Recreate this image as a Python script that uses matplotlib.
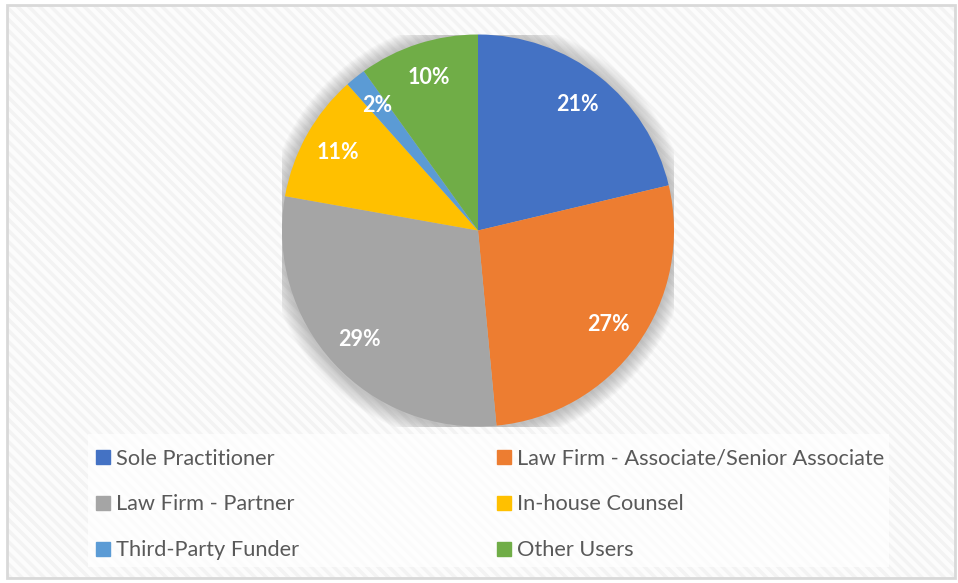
import matplotlib
matplotlib.use('Agg')
import matplotlib.pyplot as plt
from matplotlib.patches import Rectangle, Circle
from matplotlib.lines import Line2D

# Data (shares, labels shown rounded)
categories = ['Sole Practitioner', 'Law Firm - Associate/Senior Associate',
              'Law Firm - Partner', 'In-house Counsel',
              'Third-Party Funder', 'Other Users']
shares = [21.3, 27.2, 29.3, 10.6, 1.7, 9.9]
colors = ['#4472C4', '#ED7D31', '#A5A5A5', '#FFC000', '#5B9BD5', '#70AD47']

plt.rcParams['hatch.linewidth'] = 2.5

W, H = 958, 583
fig = plt.figure(figsize=(W / 100, H / 100), dpi=100)
fig.patch.set_facecolor('white')

# hatched background inside the chart frame
bg = Rectangle((7 / W, 1 - 578 / H), 948 / W, 573 / H, transform=fig.transFigure,
               facecolor='#fcfcfc', edgecolor='#f3f3f3', hatch='\\\\\\', lw=0, zorder=0)
fig.patches.append(bg)
frame = Rectangle((7 / W, 1 - 578 / H), 948 / W, 573 / H, transform=fig.transFigure,
                  facecolor='none', edgecolor='#d9d9d9', lw=2, zorder=1)
fig.patches.append(frame)
# lighter box behind legend
lbox = Rectangle((88 / W, 1 - 567 / H), 801 / W, 133 / H, transform=fig.transFigure,
                 facecolor='white', edgecolor='none', alpha=0.75, zorder=1)
fig.patches.append(lbox)

cx, cy, r = 478, 230.5, 196
ax = fig.add_axes([(cx - r) / W, 1 - (cy + r) / H, 2 * r / W, 2 * r / H])
ax.set_zorder(5)
ax.patch.set_alpha(0)
ax.axis('off')

# soft shadow around the pie
for i in range(14):
    ax.add_patch(Circle((0, -0.006), 1.0 + 0.006 * (i + 1), color='#7f7f7f',
                        alpha=0.04, lw=0, zorder=0))

wedges, texts, autotexts = ax.pie(
    shares, colors=colors, startangle=90, counterclock=False,
    autopct='%.0f%%', pctdistance=0.82, radius=1.0,
    wedgeprops=dict(linewidth=0),
    textprops=dict(color='white', fontsize=15.5, fontweight='bold', family='Lato'))
ax.set_xlim(-1, 1)
ax.set_ylim(-1, 1)

def handle(c):
    return Line2D([], [], marker='s', linestyle='none', markersize=10,
                  markerfacecolor=c, markeredgecolor=c)

for col, x0 in enumerate([88, 489]):
    idx = [col, col + 2, col + 4]
    leg = fig.legend([handle(colors[i]) for i in idx], [categories[i] for i in idx],
                     loc='upper left', bbox_to_anchor=(x0 / W, 1 - 440 / H),
                     frameon=False, ncol=1, handlelength=0.6, handletextpad=0.3,
                     labelspacing=1.18, borderaxespad=0,
                     prop=dict(family='Lato', size=15.7))
    leg.set_zorder(6)
    for t in leg.get_texts():
        t.set_color('#595959')

fig.savefig('out.png', dpi=100)
